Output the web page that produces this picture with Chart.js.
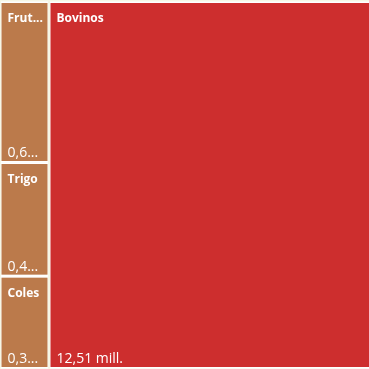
<!DOCTYPE html>
<html>
<head>
<meta charset="utf-8">
<script src="https://cdn.jsdelivr.net/npm/chart.js@4.4.1/dist/chart.umd.min.js"></script>
<style>
  html, body { margin: 0; padding: 0; background: #f5f7e6; }
  #wrap { width: 369px; height: 369px; }
</style>
</head>
<body>
<div id="wrap"><canvas id="chart"></canvas></div>
<script>
// datos (millones)
const categories = ["Frutas", "Trigo", "Coles", "Bovinos"];
const values = [0.68, 0.48, 0.39, 12.51];
const columns = [0, 0, 0, 1];

const cellColors = ["#bb7a4b", "#bb7a4b", "#bb7a4b", "#cd2e2e"];

function fmt(v) {
    return v.toFixed(2).replace(".", ",") + " mill.";
}

// slice-and-dice: each column spans full height, width = column total
function layout() {
    let totals = [];
    columns.forEach((c, i) => { totals[c] = (totals[c] || 0) + values[i]; });
    let xStart = [];
    let acc = 0;
    totals.forEach((t, c) => { xStart[c] = acc; acc += t; });
    let yAcc = totals.map(() => 0);
    return values.map((v, i) => {
        let c = columns[i];
        let cell = { x0: xStart[c], x1: xStart[c] + totals[c], y0: yAcc[c], y1: yAcc[c] + v / totals[c] };
        yAcc[c] = cell.y1;
        return cell;
    });
}

function fitText(ctx, s, maxW) {
    if (ctx.measureText(s).width <= maxW) return s;
    while (s.length > 1 && ctx.measureText(s + "...").width > maxW) s = s.slice(0, -1);
    return s + "...";
}

const treemapPlugin = {
    id: "treemap",
    beforeDatasetsDraw(chart) {
        let ctx = chart.ctx;
        let xs = chart.scales.x, ys = chart.scales.y;
        let cells = layout();
        ctx.save();
        cells.forEach((c) => {
            let X0 = xs.getPixelForValue(c.x0), X1 = xs.getPixelForValue(c.x1);
            let Y0 = ys.getPixelForValue(c.y0), Y1 = ys.getPixelForValue(c.y1);
            ctx.fillStyle = "#ffffff";
            ctx.fillRect(X0 + 1, Y0, X1 - X0 - 2, Y1 - Y0);
        });
        cells.forEach((c, i) => {
            let X0 = xs.getPixelForValue(c.x0), X1 = xs.getPixelForValue(c.x1);
            let Y0 = ys.getPixelForValue(c.y0), Y1 = ys.getPixelForValue(c.y1);
            let x = X0 + 1.5, y = Y0 + 1.5, w = X1 - X0 - 3, h = Y1 - Y0 - 3;
            ctx.fillStyle = cellColors[i];
            ctx.fillRect(x, y, w, h);

            let maxW = Math.min(w, chart.width - x) - 9;
            ctx.fillStyle = "#ffffff";
            ctx.textAlign = "left";
            ctx.textBaseline = "alphabetic";
            ctx.font = "bold 12px 'Open Sans'";
            ctx.fillText(fitText(ctx, categories[i], maxW), x + 6, y + 19);
            ctx.font = "14px 'Open Sans'";
            ctx.fillText(fitText(ctx, fmt(values[i]), maxW), x + 6, y + h - 4);
        });
        ctx.restore();
    }
};

const totalLeft = values.filter((v, i) => columns[i] === 0).reduce((a, b) => a + b, 0);

new Chart(document.getElementById("chart"), {
    type: "scatter",
    data: { datasets: [{ data: [] }] },
    options: {
        responsive: true,
        maintainAspectRatio: false,
        animation: false,
        layout: { padding: { left: 0, right: 0, top: 1.5, bottom: 0.5 } },
        plugins: { legend: { display: false }, tooltip: { enabled: false } },
        scales: {
            x: { type: "linear", min: 0, max: totalLeft * 369 / 49, display: false },
            y: { type: "linear", min: 0, max: 1, reverse: true, display: false }
        }
    },
    plugins: [treemapPlugin]
});
</script>
</body>
</html>
